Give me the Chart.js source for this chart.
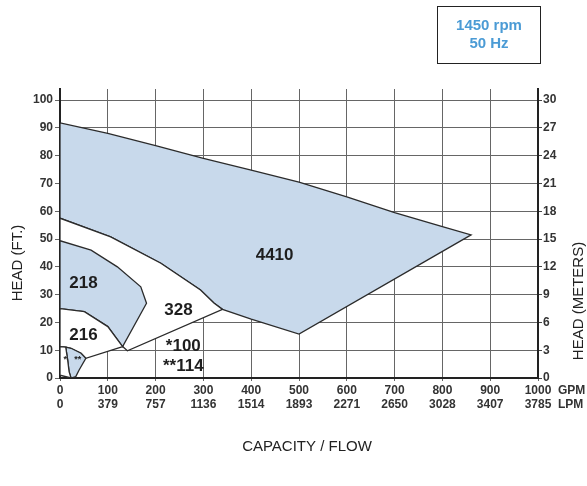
<!DOCTYPE html>
<html>
<head>
<meta charset="utf-8">
<script src="https://cdn.jsdelivr.net/npm/chart.js@4.4.1/dist/chart.umd.min.js"></script>
<style>
  html, body { margin: 0; padding: 0; background: #fff; }
  #wrap { width: 587px; height: 486px; }
</style>
</head>
<body>
<div id="wrap"><canvas id="chart" width="587" height="486"></canvas></div>
<script>
// pump selection chart - 1450 rpm / 50 Hz

// axis labels
const headFtTicks = [0, 10, 20, 30, 40, 50, 60, 70, 80, 90, 100];
const lpmTicks = ['0', '379', '757', '1136', '1514', '1893', '2271', '2650', '3028', '3407', '3785'];
const metersTicks = [0, 3, 6, 9, 12, 15, 18, 21, 24, 27, 30];

// coverage areas, x = capacity (GPM), y = head (ft)
const p4410Gpm = [0, 100, 200, 300, 400, 500, 600, 700, 800, 860, 500, 400, 340, 322, 294, 211, 106, 0, 0];
const p4410Ft = [91.8, 88, 83.6, 79, 74.8, 70.5, 65.2, 59.5, 54.5, 51.5, 15.8, 21.2, 24.7, 27, 31.7, 41.3, 50.8, 57.5, 91.8];

const p328Gpm = [0, 106, 211, 294, 322, 340, 141, 131, 150, 0, 0];
const p328Ft = [57.5, 50.8, 41.3, 31.7, 27, 24.7, 9.8, 11.3, 25, 45, 57.5];

const p218Gpm = [0, 65, 120, 169, 181, 131, 100, 51, 0, 0];
const p218Ft = [49.4, 46, 40, 32.8, 26.9, 11.3, 18.5, 23.9, 25, 49.4];

const p216Gpm = [0, 51, 100, 131, 54, 44, 23, 12, 0, 0];
const p216Ft = [25, 23.9, 18.5, 11.3, 7.1, 8.9, 10.7, 11.1, 11.3, 25];

const p100Gpm = [0, 12, 16, 19, 23, 0, 0];
const p100Ft = [11.3, 11.1, 6.5, 2.3, 0, 1, 11.3];

const p114Gpm = [12, 23, 44, 54, 40, 33, 23, 19, 16, 12];
const p114Ft = [11.1, 10.7, 8.9, 7.1, 2.9, 0.5, 0, 2.3, 6.5, 11.1];

// model labels inside the areas
const labelText = ['4410', '218', '216', '328', '*100', '**114', '*', '**'];
const labelGpm = [449, 49, 49, 248, 258, 258, 11, 37];
const labelFt = [44.2, 34.2, 15.5, 24.5, 11.5, 4.3, 6.5, 6.5];

const BLUE = '#c8d9eb';
const WHITE = '#ffffff';
const FONT = "'Liberation Sans', Arial, Helvetica, sans-serif";

function toPoints(xs, ys) {
  return xs.map((x, i) => ({ x: x, y: ys[i] }));
}

function area(label, xs, ys, color) {
  return {
    label: label,
    data: toPoints(xs, ys),
    showLine: true,
    pointRadius: 0,
    borderColor: '#2b2b2b',
    borderWidth: 1.3,
    tension: 0,
    fill: false,
    areaColor: color
  };
}

// fill each polygon right before its outline is drawn
const areaFill = {
  id: 'areaFill',
  beforeDatasetDraw(chart, args) {
    const ds = chart.data.datasets[args.index];
    const pts = args.meta.data;
    const ctx = chart.ctx;
    ctx.save();
    ctx.beginPath();
    pts.forEach((p, i) => (i ? ctx.lineTo(p.x, p.y) : ctx.moveTo(p.x, p.y)));
    ctx.closePath();
    ctx.fillStyle = ds.areaColor;
    ctx.fill();
    ctx.restore();
  }
};

const textLayer = {
  id: 'textLayer',
  beforeDraw(chart) {
    const ctx = chart.ctx;
    ctx.save();
    ctx.fillStyle = '#fff';
    ctx.fillRect(0, 0, chart.width, chart.height);
    ctx.restore();
  },
  afterDatasetsDraw(chart) {
    const ctx = chart.ctx;
    const xs = chart.scales.x;
    const ys = chart.scales.y;
    ctx.save();
    ctx.fillStyle = '#1e1e1e';
    ctx.textAlign = 'center';
    ctx.textBaseline = 'middle';
    labelText.forEach((t, i) => {
      const small = t === '*' || t === '**';
      ctx.font = (small ? 'bold 9px ' : 'bold 17px ') + FONT;
      ctx.fillText(t, xs.getPixelForValue(labelGpm[i]), ys.getPixelForValue(labelFt[i]));
    });
    ctx.restore();
  },
  afterDraw(chart) {
    const ctx = chart.ctx;
    const xs = chart.scales.x;
    ctx.save();
    // units next to the last tick
    ctx.fillStyle = '#333';
    ctx.font = 'bold 12px ' + FONT;
    ctx.textAlign = 'left';
    ctx.textBaseline = 'middle';
    const ux = xs.getPixelForValue(1000) + 20;
    ctx.fillText('GPM', ux, 391);
    ctx.fillText('LPM', ux, 405);

    // axis titles
    ctx.fillStyle = '#222';
    ctx.font = '15px ' + FONT;
    ctx.textAlign = 'center';
    ctx.fillText('CAPACITY / FLOW', 307, 447);
    ctx.save();
    ctx.translate(18, 263);
    ctx.rotate(-Math.PI / 2);
    ctx.fillText('HEAD (FT.)', 0, 0);
    ctx.restore();
    ctx.save();
    ctx.translate(579, 301);
    ctx.rotate(-Math.PI / 2);
    ctx.fillText('HEAD (METERS)', 0, 0);
    ctx.restore();

    // speed box
    ctx.strokeStyle = '#222';
    ctx.lineWidth = 1;
    ctx.strokeRect(437.5, 6.5, 103, 57);
    ctx.fillStyle = '#4b9bd5';
    ctx.font = 'bold 15px ' + FONT;
    ctx.fillText('1450 rpm', 489, 26);
    ctx.fillText('50 Hz', 489, 44);
    ctx.restore();
  }
};

const tickFont = { family: FONT, size: 12, weight: 'bold', lineHeight: 1.15 };
// plot goes a little above 100 ft, but ticks stop at 100
const fixedHeadTicks = (scale) => { scale.ticks = headFtTicks.map(v => ({ value: v })); };

new Chart(document.getElementById('chart'), {
  type: 'scatter',
  data: {
    datasets: [
      area('*100', p100Gpm, p100Ft, WHITE),
      area('**114', p114Gpm, p114Ft, BLUE),
      area('216', p216Gpm, p216Ft, WHITE),
      area('218', p218Gpm, p218Ft, BLUE),
      area('328', p328Gpm, p328Ft, WHITE),
      area('4410', p4410Gpm, p4410Ft, BLUE)
    ]
  },
  options: {
    responsive: false,
    animation: false,
    devicePixelRatio: 1,
    layout: { padding: { top: 89, left: 0, right: 0, bottom: 0 } },
    plugins: {
      legend: { display: false },
      tooltip: { enabled: false }
    },
    scales: {
      x: {
        type: 'linear',
        min: 0,
        max: 1000,
        position: 'bottom',
        afterFit: (s) => { s.height = 108; },
        ticks: {
          stepSize: 100,
          autoSkip: false,
          maxRotation: 0,
          padding: 3,
          color: '#333',
          font: tickFont,
          callback: (v, i) => [String(v), lpmTicks[i]]
        },
        grid: { color: '#666', lineWidth: 1, tickLength: 3 },
        border: { color: '#222', width: 2 }
      },
      y: {
        type: 'linear',
        min: 0,
        max: 104,
        position: 'left',
        afterFit: (s) => { s.width = 60; },
        afterBuildTicks: fixedHeadTicks,
        ticks: { autoSkip: false, padding: 2, color: '#333', font: tickFont },
        grid: { color: '#666', lineWidth: 1, tickLength: 5 },
        border: { color: '#222', width: 2 }
      },
      y2: {
        type: 'linear',
        min: 0,
        max: 104,
        position: 'right',
        afterFit: (s) => { s.width = 49; },
        afterBuildTicks: fixedHeadTicks,
        ticks: {
          autoSkip: false,
          padding: 1,
          color: '#333',
          font: tickFont,
          callback: (v, i) => metersTicks[i]
        },
        grid: { drawOnChartArea: false, color: '#444', tickLength: 4 },
        border: { color: '#222', width: 2 }
      }
    }
  },
  plugins: [areaFill, textLayer]
});
</script>
</body>
</html>
